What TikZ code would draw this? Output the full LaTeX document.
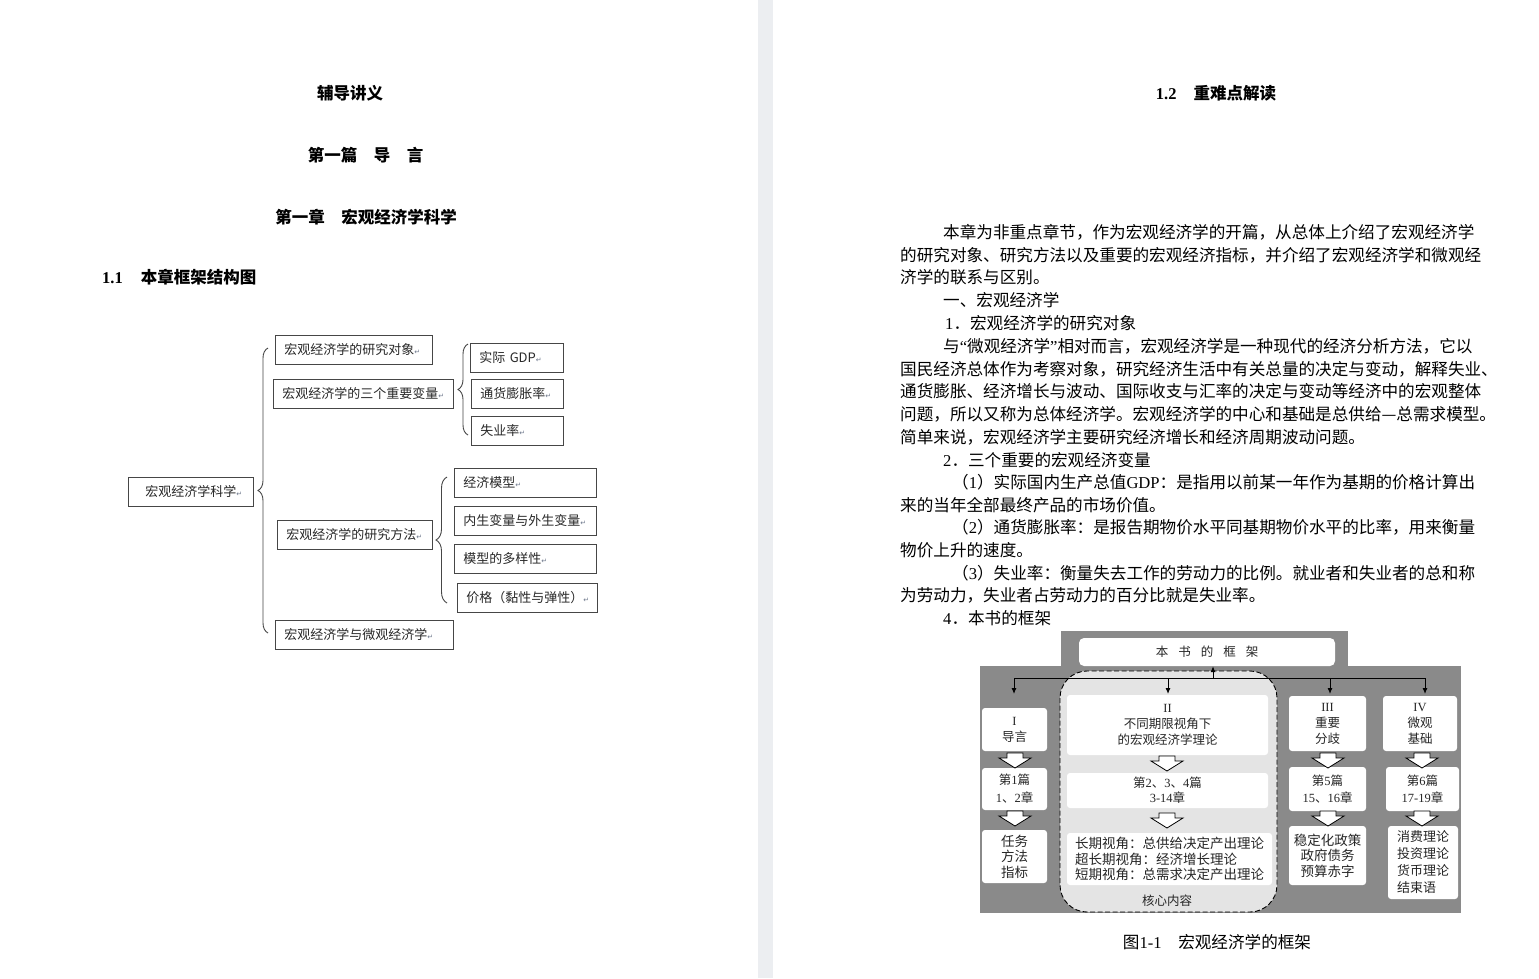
\documentclass[tikz,border=0pt]{standalone}
\usepackage{fontspec}
\usepackage{tikz}
\setmainfont{Liberation Serif}
\newfontfamily\cjk{Noto Sans CJK SC}
\newfontfamily\djv{DejaVu Sans}
\usetikzlibrary{decorations.pathreplacing,arrows.meta}

\definecolor{pagegap}{RGB}{236,238,241}
\definecolor{boxline}{RGB}{70,70,70}
\definecolor{boxtext}{RGB}{40,40,40}
\definecolor{retmark}{RGB}{110,120,140}
\definecolor{framegray}{RGB}{138,138,138}
\definecolor{coregray}{RGB}{228,228,228}

\newcommand\en[1]{{\rmfamily #1}}
\newcommand\ret{{\djv\fontsize{7}{7}\selectfont\textcolor{retmark}{↵}}}

\tikzset{
  bodyline/.style={anchor=west, inner sep=0pt, font=\cjk\fontsize{16.6}{22}\selectfont},
  heading/.style={inner sep=0pt, font=\cjk\bfseries\fontsize{16.5}{20}\selectfont},
  topicbox/.style={draw=boxline, line width=.9pt, anchor=west, minimum height=29pt,
    inner xsep=9pt, inner ysep=0pt, align=left, text=boxtext,
    font=\cjk\fontsize{13}{15}\selectfont},
  splitbrace/.style={decorate, decoration={brace, amplitude=10pt}, draw=boxline, line width=.9pt},
  framebox/.style={fill=white, rounded corners=3pt, align=center, inner sep=0pt,
    text=black!85, font=\cjk\fontsize{12.5}{16}\selectfont},
  topicfont/.style={font=\cjk\fontsize{13.5}{15.5}\selectfont},
  framearrow/.style={-{Latex[length=6pt,width=5pt]}, line width=1pt},
}

\begin{document}
\begin{tikzpicture}[x=1pt, y=-1pt]
  \useasboundingbox (0,0) rectangle (1539,978);
  \fill[white] (0,0) rectangle (1539,978);
  \fill[pagegap] (758,0) rectangle (773,978);

  % left page: headings
  \node[heading] (doc) at (350,93) {辅导讲义};
  \node[heading] (part) at (365.5,155) {第一篇　导　言};
  \node[heading] (chap) at (366,217) {第一章　宏观经济学科学};
  \node[heading, anchor=west] (sec11) at (102,277) {\en{1.1}\hspace{18pt}本章框架结构图};

  % left page: structure chart
  \node[topicbox, text width=91pt, inner xsep=17pt] (root) at (128,491.5) {宏观经济学科学\ret};
  \node[topicbox, text width=139pt] (object) at (275,349.5) {宏观经济学的研究对象\ret};
  \node[topicbox, text width=162pt] (vars) at (273,393.5) {宏观经济学的三个重要变量\ret};
  \node[topicbox, text width=75pt] (gdp) at (470,357.5) {实际 GDP\ret};
  \node[topicbox, text width=74pt] (infl) at (471,393.5) {通货膨胀率\ret};
  \node[topicbox, text width=74pt] (unemp) at (471,430.5) {失业率\ret};
  \node[topicbox, text width=137pt] (method) at (277,535) {宏观经济学的研究方法\ret};
  \node[topicbox, text width=124pt] (model) at (454,482.5) {经济模型\ret};
  \node[topicbox, text width=124pt] (endo) at (454,521) {内生变量与外生变量\ret};
  \node[topicbox, text width=124pt] (variety) at (454,559) {模型的多样性\ret};
  \node[topicbox, text width=122pt] (price) at (457,597.5) {价格（黏性与弹性）\ret};
  \node[topicbox, text width=160pt] (micro) at (275,635) {宏观经济学与微观经济学\ret};

  \coordinate (mainbot) at (268,633);
  \coordinate (maintop) at (268,348);
  \coordinate (varsbot) at (468,435);
  \coordinate (varstop) at (468,344);
  \coordinate (methbot) at (447,603);
  \coordinate (methtop) at (447,477);
  \draw[splitbrace] (mainbot) -- (maintop);
  \draw[splitbrace] (varsbot) -- (varstop);
  \draw[splitbrace, decoration={amplitude=11pt}] (methbot) -- (methtop);

  % right page: text
  \node[heading] (sec12) at (1216,93) {\en{1.2}\hspace{17pt}重难点解读};
  \foreach \y/\x/\t in {
    232/943/{本章为非重点章节，作为宏观经济学的开篇，从总体上介绍了宏观经济学},
    255/900/{的研究对象、研究方法以及重要的宏观经济指标，并介绍了宏观经济学和微观经},
    277/900/{济学的联系与区别。},
    300/943/{一、宏观经济学},
    323/945/{\en{1}．宏观经济学的研究对象},
    346/943/{与\en{“}微观经济学\en{”}相对而言，宏观经济学是一种现代的经济分析方法，它以},
    369/900/{国民经济总体作为考察对象，研究经济生活中有关总量的决定与变动，解释失业、},
    391/900/{通货膨胀、经济增长与波动、国际收支与汇率的决定与变动等经济中的宏观整体},
    414/900/{问题，所以又称为总体经济学。宏观经济学的中心和基础是总供给—总需求模型。},
    437/900/{简单来说，宏观经济学主要研究经济增长和经济周期波动问题。},
    460/943/{\en{2}．三个重要的宏观经济变量},
    482/952/{（\en{1}）实际国内生产总值\en{GDP}：是指用以前某一年作为基期的价格计算出},
    505/900/{来的当年全部最终产品的市场价值。},
    527/952/{（\en{2}）通货膨胀率：是报告期物价水平同基期物价水平的比率，用来衡量},
    550/900/{物价上升的速度。},
    573/952/{（\en{3}）失业率：衡量失去工作的劳动力的比例。就业者和失业者的总和称},
    595/900/{为劳动力，失业者占劳动力的百分比就是失业率。},
    618/943/{\en{4}．本书的框架}}
    \node[bodyline] at (\x,\y) {\t};

  % right page: framework figure
  \fill[framegray] (980,666) rectangle (1461,913);
  \fill[framegray] (1061,631) rectangle (1348,666);
  \filldraw[fill=coregray, draw=black, line width=.9pt, dash pattern=on 5pt off 2.5pt,
    rounded corners=27pt] (1060,671) rectangle (1277,912);

  \node[framebox, minimum width=256pt, minimum height=28pt, rounded corners=5pt] (title)
    at (1207,652) {本\hspace{.8em}书\hspace{.8em}的\hspace{.8em}框\hspace{.8em}架};

  \coordinate (hubL) at (1014,678);
  \coordinate (hubR) at (1425,678);
  \coordinate (hubC) at (1213,678);
  \draw[line width=1pt] (hubL) -- (hubR);
  \draw[framearrow] (hubC) -- (hubC |- title.south);
  \foreach \x [count=\i] in {1014,1168,1330,1425} {
    \coordinate (drop\i) at (\x,694);
    \draw[framearrow] (drop\i |- hubL) -- (drop\i);
  }

  \node[framebox, minimum width=65pt, minimum height=43pt] (intro) at (1014.5,729.5) {\en{I}\\导言};
  \node[framebox, minimum width=65pt, minimum height=42pt, font=\cjk\fontsize{12.5}{18}\selectfont] (introch) at (1014.5,789) {第\en{1}篇\\\en{1}、\en{2}章};
  \node[framebox, topicfont, minimum width=65pt, minimum height=53pt] (introtopic) at (1014.5,856.5) {任务\\方法\\指标};

  \node[framebox, minimum width=201pt, minimum height=60pt] (theory) at (1167.5,725) {\en{II}\\不同期限视角下\\的宏观经济学理论};
  \node[framebox, minimum width=201pt, minimum height=35pt, font=\cjk\fontsize{12.5}{15}\selectfont] (theorych) at (1167.5,790.5) {第\en{2}、\en{3}、\en{4}篇\\\en{3-14}章};
  \node[framebox, topicfont, minimum width=205pt, minimum height=52pt, align=left] (horizons) at (1169.5,859) {长期视角：总供给决定产出理论\\超长期视角：经济增长理论\\短期视角：总需求决定产出理论};
  \node[inner sep=0pt, text=black!85, font=\cjk\fontsize{12.5}{15}\selectfont] (core) at (1167,901) {核心内容};

  \node[framebox, minimum width=77pt, minimum height=55pt] (debate) at (1327.5,723.5) {\en{III}\\重要\\分歧};
  \node[framebox, minimum width=77pt, minimum height=44pt, font=\cjk\fontsize{12.5}{17}\selectfont] (debatech) at (1327.5,789) {第\en{5}篇\\\en{15}、\en{16}章};
  \node[framebox, topicfont, minimum width=77pt, minimum height=59pt] (debatetopic) at (1327.5,855.5) {稳定化政策\\政府债务\\预算赤字};

  \node[framebox, minimum width=74pt, minimum height=55pt] (found) at (1420,723.5) {\en{IV}\\微观\\基础};
  \node[framebox, minimum width=73pt, minimum height=44pt, font=\cjk\fontsize{12.5}{17}\selectfont] (foundch) at (1422.5,789) {第\en{6}篇\\\en{17-19}章};
  \node[framebox, minimum width=70pt, minimum height=73pt, align=left, font=\cjk\fontsize{13}{17}\selectfont] (foundtopic) at (1423,862.5) {消费理论\\投资理论\\货币理论\\结束语};

  % block arrows between the boxes
  \foreach \x/\y in {1015/753, 1015/811, 1167/756, 1167/813, 1328/753, 1328/811, 1422/753, 1422/811}
    \draw[fill=white, line width=.8pt, line join=miter]
      (\x-8,\y) -- (\x+8,\y) -- (\x+8,\y+5) -- (\x+16,\y+5) -- (\x,\y+15)
      -- (\x-16,\y+5) -- (\x-8,\y+5) -- cycle;

  \node[inner sep=0pt, font=\cjk\fontsize{16.6}{20}\selectfont] (caption) at (1217,942) {图\en{1-1}　宏观经济学的框架};
\end{tikzpicture}
\end{document}
